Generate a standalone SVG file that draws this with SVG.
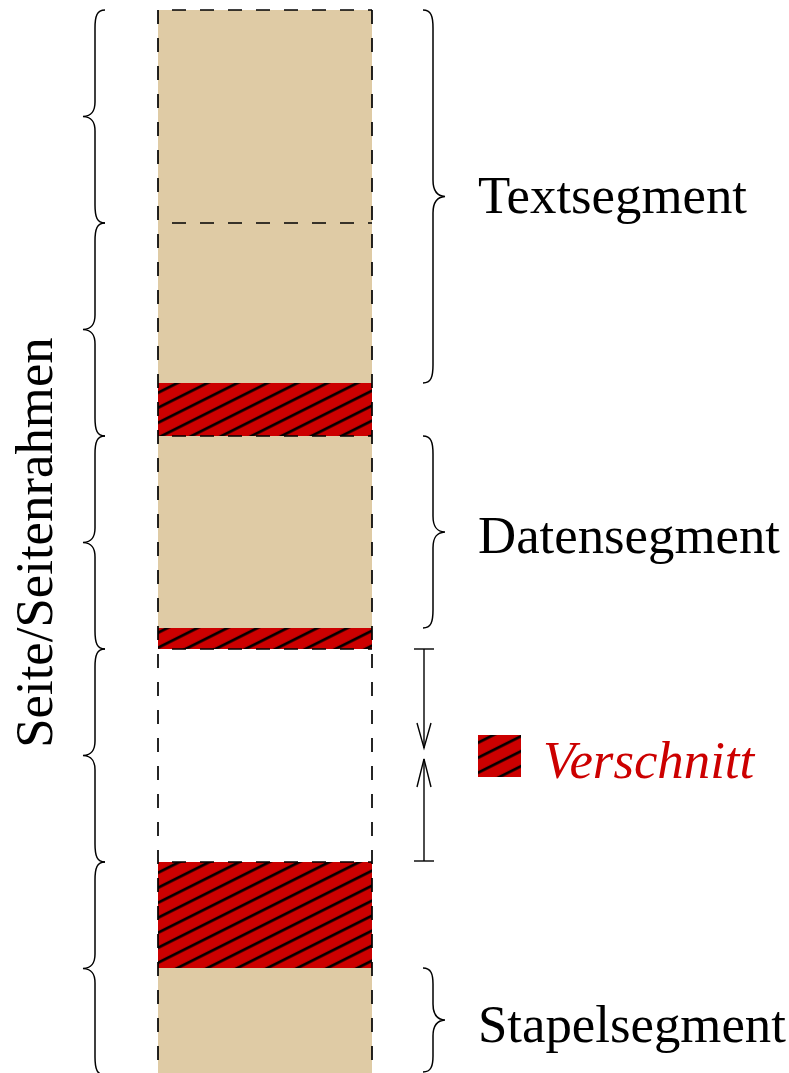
<svg xmlns="http://www.w3.org/2000/svg" width="789" height="1073" viewBox="0 0 789 1073">
<defs>
<pattern id="hatch" width="10" height="13.416" patternUnits="userSpaceOnUse" patternTransform="rotate(-26.565)">
<rect x="0" y="0" width="10" height="13.416" fill="#cc0000"/>
<line x1="-1" y1="6" x2="11" y2="6" stroke="#000" stroke-width="2.7"/>
</pattern>
<style>
.tan{fill:#dfcba5;}
.hatch{fill:url(#hatch);}
.dash{stroke:#000;stroke-width:1.7;stroke-dasharray:14 14;fill:none;}
.dashh{stroke:#000;stroke-width:1.7;stroke-dasharray:14 14;stroke-dashoffset:14;fill:none;}
.brace{stroke:#000;stroke-width:1.5;fill:none;}
.lbl{font-family:"Liberation Serif","Times New Roman",serif;font-size:52.8px;fill:#000;}
.dim{stroke:#000;stroke-width:1.4;fill:none;}
</style>
</defs>
<rect width="789" height="1073" fill="#fff"/>
<g id="column">
<rect class="tan" x="158" y="10" width="214" height="373"/>
<rect class="hatch" x="158" y="383" width="214" height="53"/>
<rect class="tan" x="158" y="436" width="214" height="192"/>
<rect class="hatch" x="158" y="628" width="214" height="21"/>
<rect class="hatch" x="158" y="862" width="214" height="106"/>
<rect class="tan" x="158" y="968" width="214" height="105"/>
<line class="dash" x1="158" y1="10" x2="158" y2="1073"/>
<line class="dash" x1="372" y1="10" x2="372" y2="1073"/>
<line class="dashh" x1="158" y1="10" x2="372" y2="10"/>
<line class="dashh" x1="158" y1="223" x2="372" y2="223"/>
<line class="dashh" x1="158" y1="436" x2="372" y2="436"/>
<line class="dashh" x1="158" y1="649" x2="372" y2="649"/>
<line class="dashh" x1="158" y1="862" x2="372" y2="862"/>
</g>
<g id="page-braces">
<path class="brace" d="M105,10 C97,10 95,16 95,28 L95,102 C95,111 92,116 83,116.5 C92,117 95,122 95,131 L95,205 C95,217 97,223 105,223"/>
<path class="brace" d="M105,223 C97,223 95,229 95,241 L95,315 C95,324 92,329 83,329.5 C92,330 95,335 95,344 L95,418 C95,430 97,436 105,436"/>
<path class="brace" d="M105,436 C97,436 95,442 95,454 L95,528 C95,537 92,542 83,542.5 C92,543 95,548 95,557 L95,631 C95,643 97,649 105,649"/>
<path class="brace" d="M105,649 C97,649 95,655 95,667 L95,741 C95,750 92,755 83,755.5 C92,756 95,761 95,770 L95,844 C95,856 97,862 105,862"/>
<path class="brace" d="M105,862 C97,862 95,868 95,880 L95,954 C95,963 92,968 83,968.5 C92,969 95,974 95,983 L95,1057 C95,1069 97,1075 105,1075"/>
</g>
<g id="label-page">
<text class="lbl" text-anchor="middle" transform="translate(52,542.5) rotate(-90)">Seite/Seitenrahmen</text>
</g>
<g id="text-segment">
<path class="brace" d="M423,10 C431,10 433,16 433,28 L433,180 C433,190 436,196 445,196.5 C436,197 433,203 433,213 L433,365 C433,377 431,383 423,383"/>
<text class="lbl" x="478" y="213">Textsegment</text>
</g>
<g id="data-segment">
<path class="brace" d="M423,436 C431,436 433,442 433,454 L433,516 C433,526 436,531.5 445,532 C436,532.5 433,538 433,548 L433,610 C433,622 431,628 423,628"/>
<text class="lbl" x="478" y="553">Datensegment</text>
</g>
<g id="stack-segment">
<path class="brace" d="M423,968 C431,968 433,974 433,984 L433,1004 C433,1013 436,1019.5 445,1020 C436,1020.5 433,1027 433,1036 L433,1056 C433,1066 431,1072 423,1072"/>
<text class="lbl" x="478" y="1042">Stapelsegment</text>
</g>
<g id="connectors">
<line class="dim" x1="414" y1="649" x2="434" y2="649"/>
<line class="dim" x1="414" y1="861" x2="434" y2="861"/>
<line class="dim" x1="424" y1="649" x2="424" y2="748"/>
<line class="dim" x1="424" y1="759" x2="424" y2="861"/>
<polyline class="dim" points="417,723 424,748 431,723"/>
<polyline class="dim" points="417,787 424,759 431,787"/>
</g>
<g id="legend">
<rect class="hatch" x="478" y="735" width="43" height="42"/>
<text class="lbl" x="543" y="778" font-style="italic" style="fill:#cc0000">Verschnitt</text>
</g>
</svg>
